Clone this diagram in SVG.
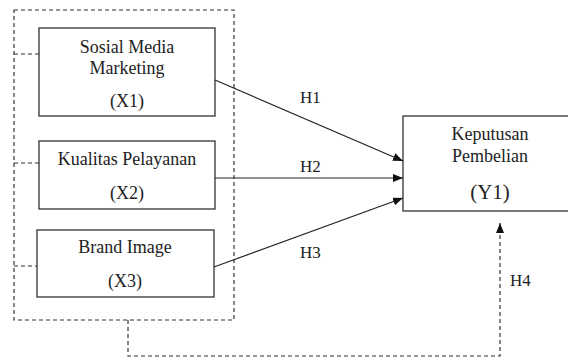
<svg xmlns="http://www.w3.org/2000/svg" width="568" height="360" viewBox="0 0 568 360">
  <style>
    .box { fill: #ffffff; stroke: #333333; stroke-width: 1.3; }
    .dash { fill: none; stroke: #333333; stroke-width: 1.2; stroke-dasharray: 4 3; }
    .edge { fill: none; stroke: #222222; stroke-width: 1.2; }
    .lbl { font-family: 'Liberation Serif', 'Times New Roman', serif; font-size: 18px; fill: #222222; }
    .hyp { font-size: 17px; }
    .mid { text-anchor: middle; }
    .big { font-size: 21px; }
  </style>
  <defs>
    <marker id="arrow" viewBox="0 0 10 8" refX="10" refY="4" markerWidth="10" markerHeight="8" markerUnits="userSpaceOnUse" orient="auto">
      <path d="M0,0 L10,4 L0,8 Z" fill="#111111"/>
    </marker>
  </defs>

  <!-- dashed grouping frame around the independent variables -->
  <g id="frame">
    <rect class="dash" x="14" y="10" width="220" height="310"/>
    <line class="dash" x1="14" y1="54" x2="39" y2="54"/>
    <line class="dash" x1="14" y1="163" x2="39" y2="163"/>
    <line class="dash" x1="14" y1="266" x2="37" y2="266"/>
  </g>

  <g id="x1">
    <rect class="box" x="39" y="28" width="176" height="88"/>
    <text class="lbl mid" x="127" y="53">Sosial Media</text>
    <text class="lbl mid" x="127" y="74">Marketing</text>
    <text class="lbl mid" x="127" y="107">(X1)</text>
  </g>

  <g id="x2">
    <rect class="box" x="39" y="141" width="176" height="68"/>
    <text class="lbl mid" x="127" y="165">Kualitas Pelayanan</text>
    <text class="lbl mid" x="127" y="199">(X2)</text>
  </g>

  <g id="x3">
    <rect class="box" x="37" y="230" width="177" height="67"/>
    <text class="lbl mid" x="125" y="253">Brand Image</text>
    <text class="lbl mid" x="125" y="287">(X3)</text>
  </g>

  <g id="y1">
    <rect class="box" x="403" y="116" width="175" height="95"/>
    <text class="lbl mid" x="490" y="140">Keputusan</text>
    <text class="lbl mid" x="490" y="162">Pembelian</text>
    <text class="lbl mid big" x="490" y="199">(Y1)</text>
  </g>

  <g id="connectors">
    <line class="edge" x1="215" y1="80" x2="403" y2="161" marker-end="url(#arrow)"/>
    <line class="edge" x1="215" y1="178" x2="403" y2="178" marker-end="url(#arrow)"/>
    <line class="edge" x1="214" y1="267" x2="403" y2="198" marker-end="url(#arrow)"/>
    <polyline class="dash" points="128,320 128,356 500,356 500,223" marker-end="url(#arrow)"/>
    <text class="lbl hyp" x="300" y="103">H1</text>
    <text class="lbl hyp" x="300" y="172">H2</text>
    <text class="lbl hyp" x="300" y="258">H3</text>
    <text class="lbl hyp" x="510" y="286">H4</text>
  </g>
</svg>
